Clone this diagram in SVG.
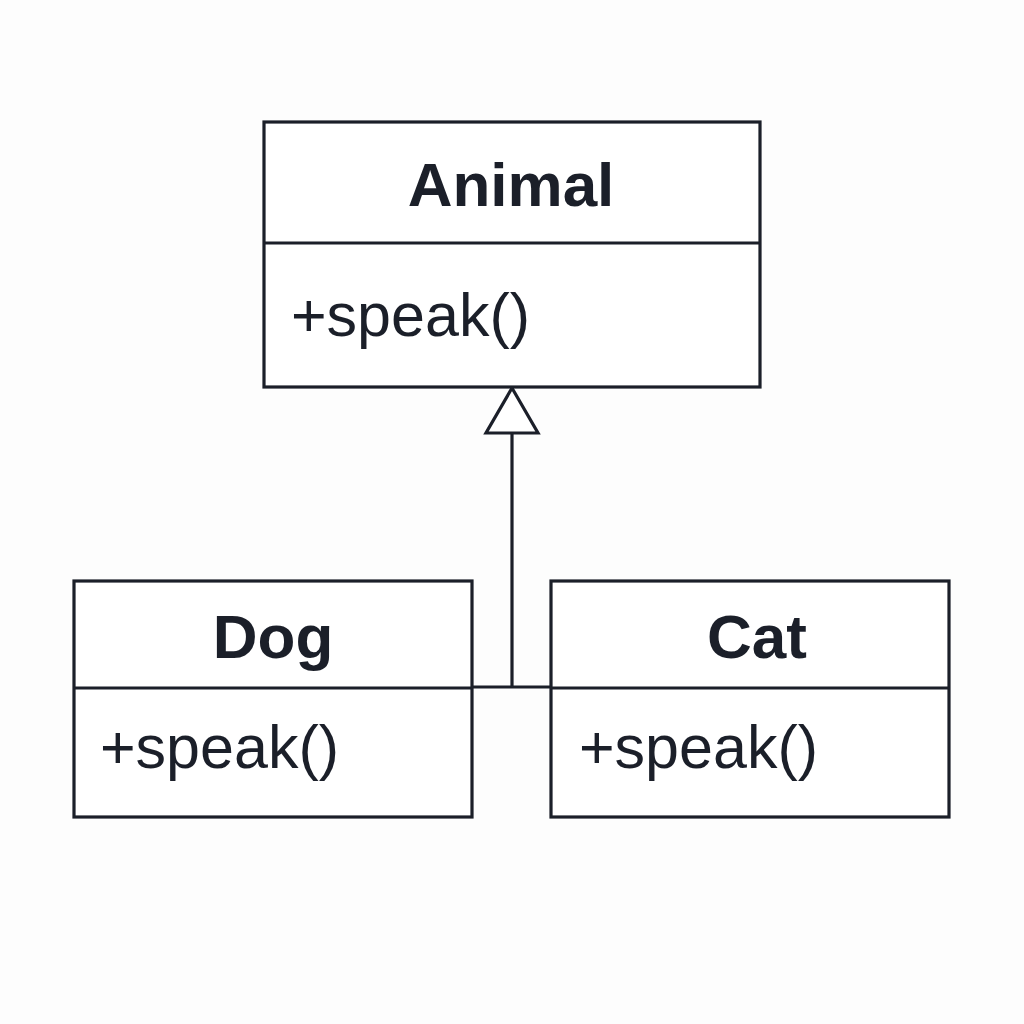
<svg xmlns="http://www.w3.org/2000/svg" width="1024" height="1024" viewBox="0 0 1024 1024">
<style>
.box{fill:#ffffff;stroke:#1b1f29;stroke-width:3.2}
.ln{stroke:#1b1f29;stroke-width:3.2;fill:none}
.title{font-family:"Liberation Sans",Arial,sans-serif;font-weight:bold;font-size:62px;fill:#1b1f29;text-anchor:middle}
.op{font-family:"Liberation Sans",Arial,sans-serif;font-size:61px;fill:#1b1f29}
</style>
<rect width="1024" height="1024" fill="#fdfdfd"/>
<g id="connectors">
<line class="ln" x1="472" y1="687" x2="551" y2="687"/>
<line class="ln" x1="512" y1="687" x2="512" y2="433"/>
<polygon class="ln" points="512,388 538,433 486,433" style="fill:#ffffff"/>
</g>
<g id="animal">
<rect class="box" x="264" y="122" width="496" height="265"/>
<line class="ln" x1="264" y1="243" x2="760" y2="243"/>
<text class="title" x="511" y="206">Animal</text>
<text class="op" x="291" y="336">+speak()</text>
</g>
<g id="dog">
<rect class="box" x="74" y="581" width="398" height="236"/>
<line class="ln" x1="74" y1="688" x2="472" y2="688"/>
<text class="title" x="273" y="658">Dog</text>
<text class="op" x="100" y="768">+speak()</text>
</g>
<g id="cat">
<rect class="box" x="551" y="581" width="398" height="236"/>
<line class="ln" x1="551" y1="688" x2="949" y2="688"/>
<text class="title" x="757" y="658">Cat</text>
<text class="op" x="579" y="768">+speak()</text>
</g>
</svg>
